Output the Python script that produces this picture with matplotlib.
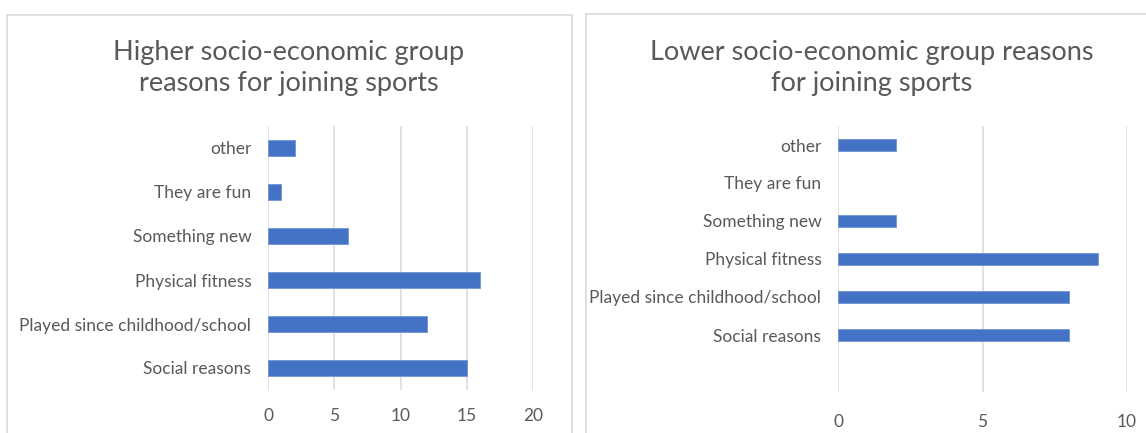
import matplotlib
matplotlib.use("Agg")
import matplotlib.pyplot as plt
from matplotlib.patches import Rectangle

plt.rcParams['font.family'] = ['Lato', 'DejaVu Sans']

# Higher socio-economic group
high_categories = ["Social reasons", "Played since childhood/school", "Physical fitness",
                   "Something new", "They are fun", "other"]
high_values = [15, 12, 16, 6, 1, 2]
high_ticks = [0, 5, 10, 15, 20]

# Lower socio-economic group (blank category at the bottom of the axis)
low_categories = ["", "Social reasons", "Played since childhood/school", "Physical fitness",
                  "Something new", "They are fun", "other"]
low_values = [0, 8, 8, 9, 2, 0, 2]
low_ticks = [0, 5, 10]

W, H = 1146, 433
BAR = "#4472C4"
GRID = "#D9D9D9"
TEXT = "#595959"

fig = plt.figure(figsize=(W / 100, H / 100), dpi=100)


def px_axes(x0, y0, x1, y1):
    return fig.add_axes([x0 / W, 1 - y1 / H, (x1 - x0) / W, (y1 - y0) / H])


# panel frames
fig.patches.append(Rectangle((7 / W, -0.1), (572 - 7) / W, 1.1 - 15 / H, transform=fig.transFigure,
                             fill=False, edgecolor=GRID, linewidth=1.2))
fig.patches.append(Rectangle((586 / W, -0.1), 0.5, 1.1 - 14 / H, transform=fig.transFigure,
                             fill=False, edgecolor=GRID, linewidth=1.2))


def draw(ax, cats, vals, ticks, xmax, bar_h, pad):
    y = list(range(len(cats)))
    bars = ax.barh(y, vals, height=bar_h, color=BAR, edgecolor="#6F93D3", linewidth=0.6, zorder=3)
    for b, v in zip(bars, vals):
        if v == 0:
            b.set_visible(False)
    ax.set_xlim(0, xmax)
    ax.set_ylim(-0.5, len(cats) - 0.5)
    ax.set_xticks(ticks)
    ax.set_yticks(y)
    ax.set_yticklabels(cats)
    for s in ax.spines.values():
        s.set_visible(False)
    ax.grid(axis="x", color=GRID, linewidth=1.1, zorder=0)
    ax.tick_params(axis="both", length=0, labelsize=12.5, labelcolor=TEXT)
    ax.tick_params(axis="x", pad=pad)
    ax.tick_params(axis="y", pad=12)
    ax.set_facecolor("none")


ax1 = px_axes(268, 126, 533, 390)
draw(ax1, high_categories, high_values, high_ticks, 20, 0.36, 13)
ax2 = px_axes(838, 126, 1127, 392)
draw(ax2, low_categories, low_values, low_ticks, 10, 0.33, 16)

fig.text(289 / W, 1 - 68 / H, "Higher socio-economic group\nreasons for joining sports",
         ha="center", va="center", fontsize=19.5, color=TEXT, linespacing=1.3)
fig.text(872 / W, 1 - 68 / H, "Lower socio-economic group reasons\nfor joining sports",
         ha="center", va="center", fontsize=19.5, color=TEXT, linespacing=1.3)

fig.savefig("out.png", dpi=100, facecolor="white")
